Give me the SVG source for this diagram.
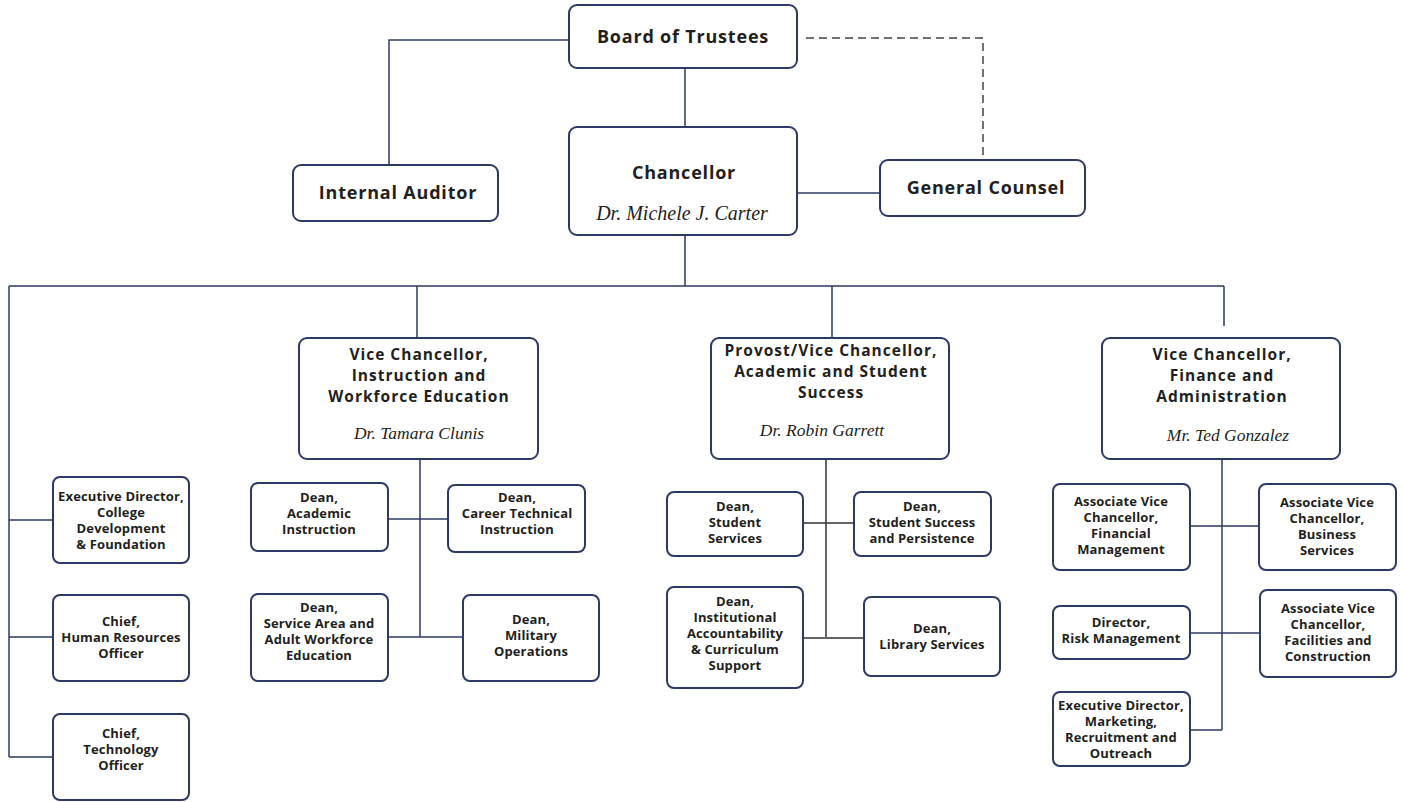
<svg xmlns="http://www.w3.org/2000/svg" width="1403" height="802" viewBox="0 0 1403 802">
<style>
.b{fill:#fff;stroke:#2d3a66;stroke-width:2}
.t{font-family:"Open Sans","Liberation Sans",sans-serif;font-weight:700;fill:#231f20;text-anchor:middle}
.h{font-size:18px;letter-spacing:0.8px}
.m{font-size:15.5px;letter-spacing:1px}
.s{font-size:13px;letter-spacing:0.15px}
.i{font-family:"Liberation Serif",serif;font-style:italic;fill:#231f20;text-anchor:middle;font-size:17.5px}
.c{fill:none;stroke:#2d3a66;stroke-width:1.5}
</style>
<rect width="1403" height="802" fill="#fff"/>
<g id="connectors">
<path class="c" d="M569 40H389V165"/>
<path d="M806 38H983V157" fill="none" stroke="#444" stroke-width="1.5" stroke-dasharray="8,5"/>
<path class="c" d="M685 68V127"/>
<path class="c" d="M797 193H880"/>
<path class="c" d="M685 235V286M9 286H1224M9 286V757M417 286V338M832 286V338M1224 286V326"/>
<path class="c" d="M9 520H53M9 637H53M9 757H53"/>
<path class="c" d="M420 459V637M388 519H448M388 637H463"/>
<path class="c" d="M826 459V637M803 523H854M803 638H864" style="stroke:#333"/>
<path class="c" d="M1222 459V730M1190 526H1259M1190 633H1260M1190 730H1222"/>
</g>
<g id="board"><rect class="b" x="569" y="5" width="228" height="63" rx="8"/><text class="t h" x="683" y="43">Board of Trustees</text></g>
<g id="chancellor"><rect class="b" x="569" y="127" width="228" height="108" rx="8"/><text class="t h" x="684" y="179">Chancellor</text><text class="i" x="682" y="220" style="font-size:20px">Dr. Michele J. Carter</text></g>
<g id="auditor"><rect class="b" x="293" y="165" width="205" height="56" rx="8"/><text class="t h" x="398" y="199">Internal Auditor</text></g>
<g id="counsel"><rect class="b" x="880" y="160" width="205" height="56" rx="8"/><text class="t h" x="986" y="194">General Counsel</text></g>
<g id="vc-instruction"><rect class="b" x="299" y="338" width="239" height="121" rx="8"/>
<text class="t m" x="419" y="360">Vice Chancellor,</text><text class="t m" x="419" y="381">Instruction and</text><text class="t m" x="419" y="402">Workforce Education</text><text class="i" x="419" y="439">Dr. Tamara Clunis</text></g>
<g id="provost"><rect class="b" x="711" y="338" width="238" height="121" rx="8"/>
<text class="t m" x="831" y="356">Provost/Vice Chancellor,</text><text class="t m" x="831" y="377">Academic and  Student</text><text class="t m" x="831" y="398">Success</text><text class="i" x="822" y="436">Dr. Robin Garrett</text></g>
<g id="vc-finance"><rect class="b" x="1102" y="338" width="238" height="121" rx="8"/>
<text class="t m" x="1222" y="360">Vice Chancellor,</text><text class="t m" x="1222" y="381">Finance and</text><text class="t m" x="1222" y="402">Administration</text><text class="i" x="1228" y="441">Mr. Ted Gonzalez</text></g>
<g id="exec-dev"><rect class="b" x="53" y="477" width="136" height="86" rx="7"/>
<text class="t s" x="121" y="501">Executive Director,</text><text class="t s" x="121" y="517">College</text><text class="t s" x="121" y="533">Development</text><text class="t s" x="121" y="549">&amp; Foundation</text></g>
<g id="chief-hr"><rect class="b" x="53" y="595" width="136" height="86" rx="7"/>
<text class="t s" x="121" y="626">Chief,</text><text class="t s" x="121" y="642">Human Resources</text><text class="t s" x="121" y="658">Officer</text></g>
<g id="chief-tech"><rect class="b" x="53" y="714" width="136" height="86" rx="7"/>
<text class="t s" x="121" y="738">Chief,</text><text class="t s" x="121" y="754">Technology</text><text class="t s" x="121" y="770">Officer</text></g>
<g id="dean-academic"><rect class="b" x="251" y="483" width="137" height="68" rx="7"/>
<text class="t s" x="319" y="502">Dean,</text><text class="t s" x="319" y="518">Academic</text><text class="t s" x="319" y="534">Instruction</text></g>
<g id="dean-cti"><rect class="b" x="448" y="485" width="137" height="67" rx="7"/>
<text class="t s" x="517" y="502">Dean,</text><text class="t s" x="517" y="518">Career Technical</text><text class="t s" x="517" y="534">Instruction</text></g>
<g id="dean-service"><rect class="b" x="251" y="594" width="137" height="87" rx="7"/>
<text class="t s" x="319" y="612">Dean,</text><text class="t s" x="319" y="628">Service Area and</text><text class="t s" x="319" y="644">Adult Workforce</text><text class="t s" x="319" y="660">Education</text></g>
<g id="dean-military"><rect class="b" x="463" y="595" width="136" height="86" rx="7"/>
<text class="t s" x="531" y="624">Dean,</text><text class="t s" x="531" y="640">Military</text><text class="t s" x="531" y="656">Operations</text></g>
<g id="dean-student-services"><rect class="b" x="667" y="492" width="136" height="64" rx="7"/>
<text class="t s" x="735" y="511">Dean,</text><text class="t s" x="735" y="527">Student</text><text class="t s" x="735" y="543">Services</text></g>
<g id="dean-ssp"><rect class="b" x="854" y="492" width="137" height="64" rx="7"/>
<text class="t s" x="922" y="511">Dean,</text><text class="t s" x="922" y="527">Student Success</text><text class="t s" x="922" y="543">and Persistence</text></g>
<g id="dean-ia"><rect class="b" x="667" y="587" width="136" height="101" rx="7"/>
<text class="t s" x="735" y="606">Dean,</text><text class="t s" x="735" y="622">Institutional</text><text class="t s" x="735" y="638">Accountability</text><text class="t s" x="735" y="654">&amp; Curriculum</text><text class="t s" x="735" y="670">Support</text></g>
<g id="dean-library"><rect class="b" x="864" y="597" width="136" height="79" rx="7"/>
<text class="t s" x="932" y="633">Dean,</text><text class="t s" x="932" y="649">Library Services</text></g>
<g id="avc-financial"><rect class="b" x="1053" y="484" width="137" height="86" rx="7"/>
<text class="t s" x="1121" y="506">Associate Vice</text><text class="t s" x="1121" y="522">Chancellor,</text><text class="t s" x="1121" y="538">Financial</text><text class="t s" x="1121" y="554">Management</text></g>
<g id="avc-business"><rect class="b" x="1259" y="484" width="137" height="86" rx="7"/>
<text class="t s" x="1327" y="507">Associate Vice</text><text class="t s" x="1327" y="523">Chancellor,</text><text class="t s" x="1327" y="539">Business</text><text class="t s" x="1327" y="555">Services</text></g>
<g id="director-risk"><rect class="b" x="1053" y="606" width="137" height="53" rx="7"/>
<text class="t s" x="1121" y="627">Director,</text><text class="t s" x="1121" y="643">Risk Management</text></g>
<g id="avc-facilities"><rect class="b" x="1260" y="590" width="136" height="87" rx="7"/>
<text class="t s" x="1328" y="613">Associate Vice</text><text class="t s" x="1328" y="629">Chancellor,</text><text class="t s" x="1328" y="645">Facilities and</text><text class="t s" x="1328" y="661">Construction</text></g>
<g id="exec-marketing"><rect class="b" x="1053" y="692" width="137" height="74" rx="7"/>
<text class="t s" x="1121" y="710">Executive Director,</text><text class="t s" x="1121" y="726">Marketing,</text><text class="t s" x="1121" y="742">Recruitment and</text><text class="t s" x="1121" y="758">Outreach</text></g>
</svg>
